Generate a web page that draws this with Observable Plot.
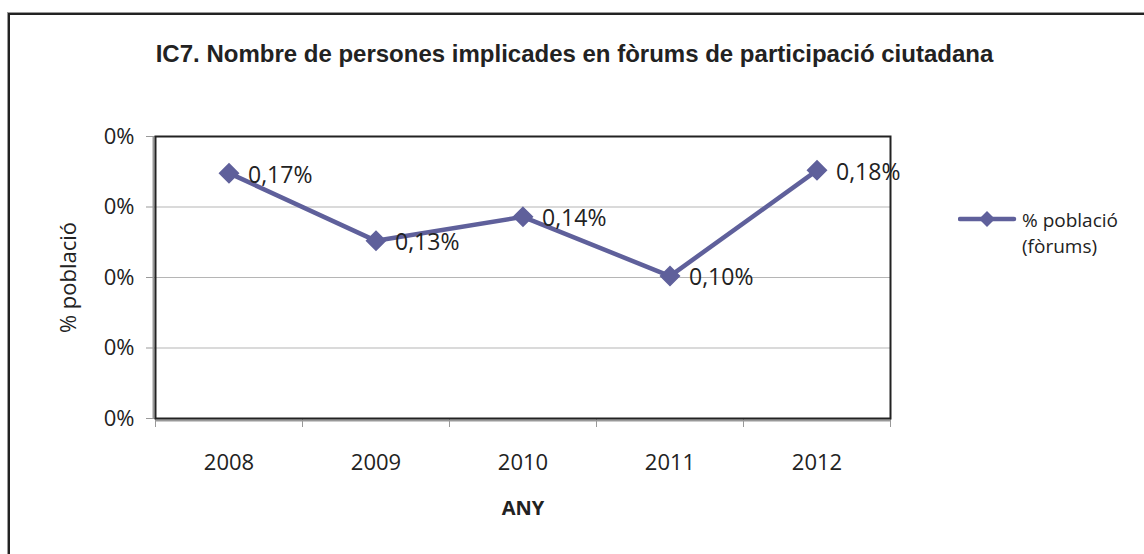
<!DOCTYPE html>
<html>
<head>
<meta charset="utf-8">
<script src="https://cdn.jsdelivr.net/npm/d3@7"></script>
<script src="https://cdn.jsdelivr.net/npm/@observablehq/plot@0.6"></script>
<style>
  html, body { margin: 0; padding: 0; background: #fff; }
  #wrap { position: relative; width: 1144px; height: 554px; overflow: hidden; }
  #border { position: absolute; left: 8px; top: 13px; width: 1200px; height: 600px;
            border-left: 2px solid #222; border-top: 2px solid #222; box-shadow: -1px -1px 0 #999; }
  #title { position: absolute; left: 0; width: 1149px; top: 40px; text-align: center;
           font-family: "Liberation Sans", Arial, sans-serif; font-weight: bold; font-size: 24px; color: #222; }
  #legend { position: absolute; left: 958px; top: 206px; font-family: "Open Sans", sans-serif;
            font-size: 19px; color: #222; line-height: 26px; }
  #legend svg { position: absolute; left: 0; top: 0px; }
  #legend .txt { position: absolute; left: 64px; top: 1px; white-space: nowrap; }
  #chart { position: absolute; left: 0; top: 0; }
</style>
</head>
<body>
<div id="wrap">
  <div id="border"></div>
  <div id="chart"></div>
  <div id="title"></div>
  <div id="legend"></div>
</div>
<script>
const title = "IC7. Nombre de persones implicades en fòrums de participació ciutadana";
const years = [2008, 2009, 2010, 2011, 2012];
const values = [0.00174, 0.00126, 0.00143, 0.00101, 0.00176];
const yTicks = [0, 0.0005, 0.001, 0.0015, 0.002];
const seriesName = ["% població", "(fòrums)"];
const xLabel = "ANY";
const yLabel = "% població";

const color = "#5f609b";
const data = years.map((y, i) => ({year: y, value: values[i]}));
const fmtLabel = v => (v * 100).toFixed(2).replace(".", ",") + "%";
const bounds = [years[0] - 0.5, ...years.map(y => y + 0.5)];

const plot = Plot.plot({
  width: 1144,
  height: 554,
  marginLeft: 155,
  marginRight: 254,
  marginTop: 136,
  marginBottom: 136,
  style: {fontFamily: "'Open Sans', sans-serif", fontSize: "22px", color: "#222", background: "transparent"},
  x: {type: "linear", domain: [bounds[0], bounds[bounds.length - 1]]},
  y: {domain: [0, 0.002]},
  marks: [
    Plot.ruleY(yTicks.slice(1, -1), {stroke: "#b5b5b5", strokeWidth: 1}),
    Plot.axisY({ticks: yTicks, tickFormat: d3.format(".0%"), tickSize: 9, tickPadding: 12, stroke: "#999", fontSize: 22, label: null}),
    Plot.axisX({ticks: bounds, tickFormat: () => "", tickSize: 9, stroke: "#999", label: null}),
    Plot.axisX({ticks: years, tickFormat: d => String(d), tickSize: 0, tickPadding: 36, fontSize: 22, label: null}),
    Plot.ruleX([bounds[0]], {stroke: "#999", strokeWidth: 2, dx: -2}),
    Plot.ruleY([0], {stroke: "#999", strokeWidth: 2, dy: 2}),
    Plot.frame({stroke: "#222", strokeWidth: 2}),
    Plot.line(data, {x: "year", y: "value", stroke: color, strokeWidth: 4.5}),
    Plot.dot(data, {x: "year", y: "value", symbol: "diamond2", r: 8.5, fill: color, stroke: color}),
    Plot.text(data, {x: "year", y: "value", text: d => fmtLabel(d.value), dx: 19, dy: 2, textAnchor: "start", fontSize: 23, fill: "#222"}),
    Plot.text([yLabel], {frameAnchor: "left", textAnchor: "middle", dx: -87, rotate: -90, fontSize: 22, fill: "#222"}),
    Plot.text([xLabel], {frameAnchor: "bottom", dy: 96, fontSize: 20, fontWeight: "bold", fill: "#222"})
  ]
});
document.getElementById("chart").appendChild(plot);
document.getElementById("title").textContent = title;

const lg = document.getElementById("legend");
lg.innerHTML = `<svg width="60" height="26"><line x1="2" y1="13" x2="56" y2="13" stroke="${color}" stroke-width="4.5" stroke-linecap="round"/>
<path d="M29,5 L37,13 L29,21 L21,13 Z" fill="${color}"/></svg>
<div class="txt">${seriesName[0]}<br>${seriesName[1]}</div>`;
</script>
</body>
</html>
